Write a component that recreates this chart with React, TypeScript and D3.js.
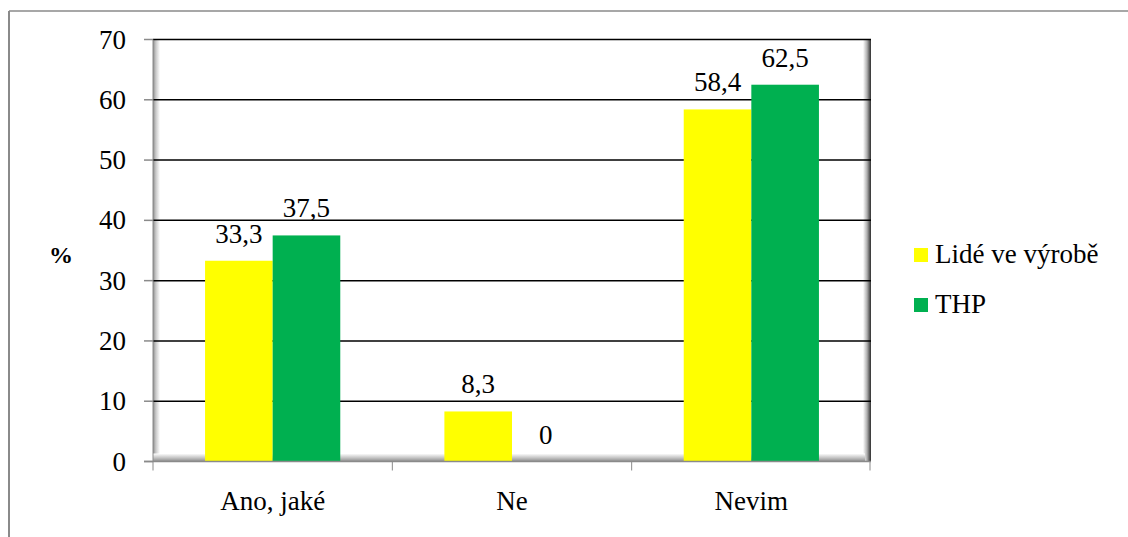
// Bar chart v8 - serif fonts forced via ref
import React, { useEffect, useRef } from "react";
import * as d3 from "d3";

const categories = ["Ano, jaké", "Ne", "Nevim"];
const seriesNames = ["Lidé ve výrobě", "THP"];
const lideValues = [33.3, 8.3, 58.4];
const thpValues = [37.5, 0, 62.5];
const valueLabels = [["33,3", "37,5"], ["8,3", "0"], ["58,4", "62,5"]];
const yTicks = [0, 10, 20, 30, 40, 50, 60, 70];
const colors = ["#FFFF00", "#00B050"];

const W = 1128;
const H = 537;
const plot = { left: 153, right: 871, top: 39.5, bottom: 461.5 };
const FONT = '"Liberation Serif", "Times New Roman", serif';

export default function App() {
  const ref = useRef<SVGSVGElement | null>(null);
  useEffect(() => {
    if (!ref.current) return;
    d3.select(ref.current)
      .selectAll<SVGTextElement, unknown>("text")
      .each(function () {
        this.style.setProperty("font-family", FONT, "important");
      });
  }, []);

  const y = d3.scaleLinear().domain([0, 70]).range([plot.bottom, plot.top]);
  const x0 = d3.scaleBand().domain(categories).range([plot.left, plot.right]).padding(0);
  const x1 = d3
    .scaleBand()
    .domain(seriesNames)
    .range([0, x0.bandwidth()])
    .paddingInner(0)
    .paddingOuter(0.77);
  const series = [lideValues, thpValues];
  const ts = { fontFamily: FONT, fontSize: "27px" };

  return (
    <svg ref={ref} width={W} height={H} style={{ position: "absolute", left: 0, top: 0, background: "#fff" }}>
      <defs>
        <linearGradient id="lw" x1="0" x2="1" y1="0" y2="0">
          <stop offset="0" stopColor="#8c8c8c" />
          <stop offset="0.4" stopColor="#c8c8c8" />
          <stop offset="1" stopColor="#ffffff" />
        </linearGradient>
        <linearGradient id="fl" x1="0" x2="0" y1="0" y2="1">
          <stop offset="0" stopColor="#ffffff" />
          <stop offset="0.5" stopColor="#c8c8c8" />
          <stop offset="1" stopColor="#8c8c8c" />
        </linearGradient>
        <linearGradient id="rw" x1="0" x2="1" y1="0" y2="0">
          <stop offset="0" stopColor="#ffffff" />
          <stop offset="0.5" stopColor="#b0b0b0" />
          <stop offset="0.8" stopColor="#606060" />
          <stop offset="1" stopColor="#303030" />
        </linearGradient>
      </defs>
      {/* outer frame */}
      <line x1={9} x2={W} y1={11} y2={11} stroke="#8a8a8a" strokeWidth={1.5} />
      <line x1={9} x2={9} y1={11} y2={H} stroke="#8a8a8a" strokeWidth={2} />

      {/* walls */}
      <rect x={plot.left} y={plot.top} width={7} height={plot.bottom - plot.top} fill="url(#lw)" />
      <rect x={plot.right - 8} y={plot.top} width={8} height={plot.bottom - plot.top} fill="url(#rw)" />
      <rect x={plot.left} y={plot.bottom - 8} width={plot.right - plot.left - 6} height={8} fill="url(#fl)" />

      {/* gridlines */}
      {yTicks
        .filter((t) => t > 0)
        .map((t) => (
          <line key={t} x1={plot.left} x2={plot.right} y1={y(t)} y2={y(t)} stroke="#000" strokeWidth={1.5} />
        ))}

      {/* bars */}
      {categories.map((c, i) =>
        seriesNames.map((s, j) => {
          const v = series[j][i];
          const bx = (x0(c) as number) + (x1(s) as number);
          return (
            <g key={c + s}>
              {v > 0 && (
                <rect x={bx} y={y(v)} width={x1.bandwidth()} height={plot.bottom - y(v)} fill={colors[j]} />
              )}
              <text x={bx + x1.bandwidth() / 2} y={y(v) - 18} textAnchor="middle" fill="#000" style={ts}>
                {valueLabels[i][j]}
              </text>
            </g>
          );
        })
      )}

      {/* axes */}
      <line x1={plot.left} x2={plot.left} y1={plot.top} y2={plot.bottom} stroke="#8a8a8a" strokeWidth={1} />
      <line x1={144} x2={plot.right} y1={plot.bottom} y2={plot.bottom} stroke="#8a8a8a" strokeWidth={1.5} />
      {yTicks.map((t) => (
        <g key={t}>
          <line x1={144} x2={plot.left} y1={y(t)} y2={y(t)} stroke="#8a8a8a" strokeWidth={1.5} />
          <text x={126} y={y(t) + 9} textAnchor="end" fill="#000" style={ts}>
            {t}
          </text>
        </g>
      ))}
      {[...categories.map((c) => x0(c) as number), plot.right - 1].map((bx, i) => (
        <line key={i} x1={bx} x2={bx} y1={plot.bottom} y2={plot.bottom + 9} stroke="#8a8a8a" strokeWidth={1} />
      ))}
      {categories.map((c) => (
        <text key={c} x={(x0(c) as number) + x0.bandwidth() / 2} y={510} textAnchor="middle" fill="#000" style={ts}>
          {c}
        </text>
      ))}

      {/* y axis title */}
      <text
        x={61}
        y={263}
        textAnchor="middle"
        fill="#000"
        style={{ fontFamily: FONT, fontSize: "24px", fontWeight: "bold" }}
      >
        %
      </text>

      {/* legend */}
      {seriesNames.map((s, j) => (
        <g key={s} transform={`translate(914, ${248 + j * 50})`}>
          <rect x={0} y={0} width={14} height={14} fill={colors[j]} />
          <text x={21} y={15} fill="#000" style={ts}>
            {s}
          </text>
        </g>
      ))}
    </svg>
  );
}
